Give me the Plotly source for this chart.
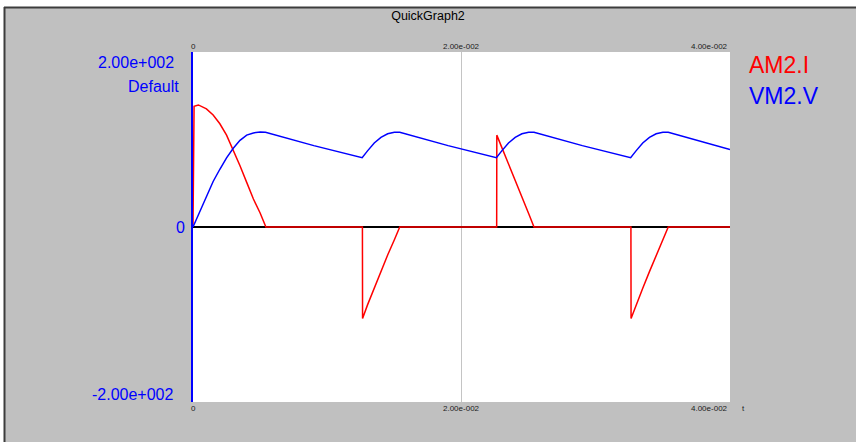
import plotly.graph_objects as go

# ---- figure geometry (pixels) ----
W, H = 856, 442
L, R, T, B = 193, 126, 52, 40
PW, PH = W - L - R, H - T - B

# ---- data ----
series_names = ["AM2.I", "VM2.V"]
series_colors = ["#ff0000", "#0000ff"]

# VM2.V : capacitor voltage (V)
t_v = [0, 0.0005, 0.001, 0.0015, 0.002, 0.0025, 0.003, 0.0035, 0.004, 0.0045,
       0.005, 0.0054, 0.009, 0.0126,
       0.013, 0.0135, 0.014, 0.0145, 0.015, 0.0154, 0.019, 0.0226,
       0.023, 0.0235, 0.024, 0.0245, 0.025, 0.0254, 0.029, 0.0326,
       0.033, 0.0335, 0.034, 0.0345, 0.035, 0.0354, 0.04]
v_v = [0, 18, 36, 52, 66, 79, 90, 99, 105, 107.5,
       108.5, 108.3, 93.0, 79.2,
       87, 96, 102.5, 106.5, 108.3, 108.2, 93.0, 79.3,
       87, 96, 102.5, 106.5, 108.3, 108.2, 93.0, 79.3,
       87, 96, 102.5, 106.5, 108.3, 108.2, 88.5]

# AM2.I : source current (A)
t_i = [0, 0.00008, 0.0004, 0.001, 0.0015, 0.002, 0.0025, 0.003, 0.0035, 0.004,
       0.0045, 0.005, 0.00543,
       0.01262, 0.01263, 0.013, 0.0135, 0.014, 0.0145, 0.015, 0.0154,
       0.02262, 0.02263, 0.023, 0.0235, 0.024, 0.0245, 0.025, 0.0254,
       0.03262, 0.03263, 0.033, 0.0335, 0.034, 0.0345, 0.035, 0.0354,
       0.04]
i_v = [0, 138, 139.5, 135, 128, 118, 105, 88, 70, 51,
       32, 16, 0,
       0, -104.5, -89, -69.5, -50.5, -32, -14.5, 0,
       0, 105, 91, 72.5, 53.5, 34.5, 15.5, 0,
       0, -104.5, -89, -70, -51, -32, -14.5, 0,
       0]

x_ticks = [0, 0.02, 0.04]
x_tick_text = ["0", "2.00e-002", "4.00e-002"]
y_ticks = [200, 0, -200]
y_tick_text = ["2.00e+002", "0", "-2.00e+002"]
y_range = [-200, 200]
x_range = [0, 0.04]

FONT = "Liberation Sans, Arial, sans-serif"
BG = "#c0c0c0"


def px_x(p):
    return (p - L) / PW


def px_y(p):
    return (H - B - p) / PH


fig = go.Figure()
fig.add_trace(go.Scatter(x=t_i, y=i_v, mode="lines", name=series_names[0],
                         line=dict(color=series_colors[0], width=1.5)))
fig.add_trace(go.Scatter(x=t_v, y=v_v, mode="lines", name=series_names[1],
                         line=dict(color=series_colors[1], width=1.5)))

ann = []
# x tick labels, top and bottom
for val, txt in zip(x_ticks, x_tick_text):
    anchor = "right" if val == x_ticks[-1] else "center"
    for yy, ya in ((1, "bottom"), (0, "top")):
        ann.append(dict(x=val, xref="x", y=yy, yref="paper", text=txt,
                        xanchor=anchor, yanchor=ya, showarrow=False,
                        font=dict(family=FONT, size=8, color="#202020"),
                        yshift=-1 if ya == "bottom" else 0))
ann.append(dict(x=px_x(743), xref="paper", y=0, yref="paper", text="t",
                xanchor="center", yanchor="top", showarrow=False,
                font=dict(family=FONT, size=8, color="#202020")))

# y labels
ann.append(dict(x=0, xref="paper", y=y_ticks[0], yref="y", text=y_tick_text[0],
                xanchor="right", yanchor="top", xshift=-17, showarrow=False,
                font=dict(family=FONT, size=16, color="#0000ff")))
ann.append(dict(x=0, xref="paper", y=y_ticks[0], yref="y", text="Default",
                xanchor="right", yanchor="top", xshift=-12, yshift=-24,
                showarrow=False, font=dict(family=FONT, size=16, color="#0000ff")))
ann.append(dict(x=0, xref="paper", y=y_ticks[1], yref="y", text=y_tick_text[1],
                xanchor="right", yanchor="middle", xshift=-6, showarrow=False,
                font=dict(family=FONT, size=16, color="#0000ff")))
ann.append(dict(x=0, xref="paper", y=y_ticks[2], yref="y", text=y_tick_text[2],
                xanchor="right", yanchor="bottom", xshift=-17, yshift=-3,
                showarrow=False, font=dict(family=FONT, size=16, color="#0000ff")))

# series labels on the right
for k, (nm, col) in enumerate(zip(series_names, series_colors)):
    ann.append(dict(x=px_x(747), xref="paper", y=px_y(65 + 31 * k), yref="paper",
                    text=nm, xanchor="left", yanchor="middle", showarrow=False,
                    font=dict(family=FONT, size=23, color=col)))

shapes = [
    # white strip along the top and left edge
    dict(type="rect", xref="paper", yref="paper", x0=px_x(-5), x1=px_x(W + 5),
         y0=px_y(7), y1=px_y(-5), fillcolor="white", line=dict(width=0), layer="above"),
    dict(type="rect", xref="paper", yref="paper", x0=px_x(-5), x1=px_x(4),
         y0=px_y(H + 5), y1=px_y(-5), fillcolor="white", line=dict(width=0), layer="above"),
    # dark frame lines
    dict(type="line", xref="paper", yref="paper", x0=px_x(4), x1=px_x(W + 5),
         y0=px_y(7.5), y1=px_y(7.5), line=dict(color="#3c3c3c", width=2), layer="above"),
    dict(type="line", xref="paper", yref="paper", x0=px_x(4.5), x1=px_x(4.5),
         y0=px_y(7), y1=px_y(H + 5), line=dict(color="#3c3c3c", width=2), layer="above"),
]

fig.update_layout(
    width=W, height=H,
    margin=dict(l=L, r=R, t=T, b=B, pad=0),
    paper_bgcolor=BG, plot_bgcolor="white",
    showlegend=False,
    title=dict(text="QuickGraph2", x=0.5, xref="container", xanchor="center",
               y=1 - 15.5 / H, yref="container", yanchor="middle",
               font=dict(family=FONT, size=12.5, color="#000000")),
    xaxis=dict(range=x_range, tickvals=x_ticks, showticklabels=False, ticks="",
               showgrid=True, gridcolor="#c4c4c4", gridwidth=1,
               zeroline=False, showline=False, fixedrange=True),
    yaxis=dict(range=y_range, showticklabels=False, ticks="", showgrid=False,
               zeroline=True, zerolinecolor="#000000", zerolinewidth=1.5,
               showline=True, linecolor="#0000ff", linewidth=1.5, fixedrange=True),
    annotations=ann,
    shapes=shapes,
)

fig.write_html("out.html")
